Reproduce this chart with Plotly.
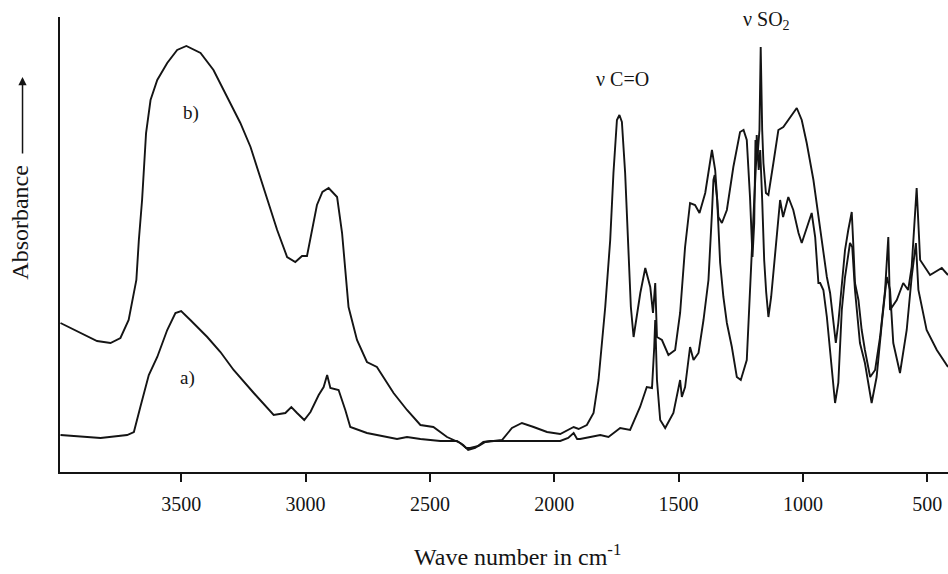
import plotly.graph_objects as go

# Curve a) : (wavenumber in cm-1, absorbance in a.u.)
curve_a = [(3985,0.37),(3824,0.34),(3717,0.37),(3690,0.40),(3664,0.65),(3630,0.97),(3596,1.15),
    (3556,1.42),(3523,1.59),(3500,1.61),(3463,1.52),(3395,1.35),(3342,1.20),(3289,1.02),
    (3208,0.79),(3128,0.57),(3081,0.59),(3057,0.65),(3034,0.59),(3005,0.52),(2980,0.60),
    (2947,0.77),(2927,0.85),(2913,0.97),(2900,0.84),(2867,0.82),(2840,0.62),(2820,0.45),
    (2753,0.39),(2686,0.36),(2632,0.33),(2592,0.35),(2538,0.33),(2458,0.31),(2391,0.31),
    (2366,0.27),(2346,0.22),(2318,0.24),(2285,0.30),(2257,0.31),(2097,0.31),(1976,0.31),
    (1944,0.34),(1922,0.39),(1908,0.33),(1896,0.33),(1855,0.35),(1815,0.37),(1782,0.35),
    (1735,0.44),(1695,0.42),(1661,0.62),(1655,0.65),(1628,0.85),(1607,0.84),(1598,1.25),
    (1594,1.52),(1587,0.92),(1574,0.52),(1554,0.44),(1521,0.59),(1494,0.92),(1487,0.75),
    (1474,0.85),(1454,1.25),(1440,1.12),(1420,1.19),(1400,1.52),(1380,1.92),(1366,2.59),
    (1360,2.92),(1355,2.97),(1345,2.72),(1333,2.09),(1320,1.75),(1306,1.49),(1286,1.25),
    (1266,0.95),(1250,0.92),(1226,1.12),(1206,2.09),(1196,2.72),(1188,3.12),(1186,3.37),
    (1178,3.02),(1172,3.22),(1164,2.72),(1156,2.12),(1148,1.80),(1139,1.55),(1128,1.75),
    (1105,2.42),(1092,2.72),(1080,2.55),(1059,2.75),(1039,2.62),(1018,2.39),(1005,2.29),
    (985,2.45),(965,2.59),(951,2.35),(938,1.89),(931,1.89),(918,1.82),(904,1.55),(884,1.05),
    (871,0.69),(858,0.89),(844,1.62),(831,1.95),(811,2.29),(802,2.25),(791,1.82),(771,1.29),
    (751,1.09),(724,0.69),(704,0.95),(683,1.49),(663,1.95),(650,1.82),(637,1.29),(610,0.99),
    (583,1.42),(563,1.95),(546,2.29),(536,1.82),(503,1.42),(462,1.22),(417,1.05)]

# Curve b)
curve_b = [(3985,1.49),(3905,1.39),(3838,1.31),(3784,1.29),(3744,1.34),(3711,1.52),(3690,1.79),
    (3680,1.92),(3670,2.32),(3657,2.72),(3641,3.39),(3623,3.72),(3596,3.92),(3556,4.09),
    (3516,4.22),(3479,4.26),(3422,4.19),(3370,4.02),(3315,3.75),(3262,3.49),(3221,3.25),
    (3169,2.85),(3114,2.42),(3074,2.15),(3041,2.10),(3014,2.16),(2994,2.16),(2954,2.67),
    (2932,2.80),(2907,2.84),(2873,2.75),(2853,2.39),(2833,1.79),(2827,1.65),(2793,1.32),
    (2753,1.10),(2713,1.05),(2646,0.79),(2592,0.62),(2538,0.47),(2486,0.45),(2431,0.35),
    (2378,0.29),(2354,0.24),(2338,0.24),(2305,0.26),(2277,0.30),(2230,0.31),(2210,0.32),
    (2170,0.44),(2130,0.49),(2083,0.45),(2029,0.40),(1976,0.38),(1922,0.45),(1902,0.43),
    (1869,0.47),(1842,0.59),(1822,0.92),(1795,1.65),(1775,2.32),(1762,2.99),(1748,3.52),
    (1738,3.57),(1728,3.50),(1715,2.99),(1702,2.15),(1692,1.65),(1681,1.35),(1668,1.55),
    (1654,1.79),(1634,2.04),(1614,1.85),(1603,1.59),(1594,1.89),(1587,1.35),(1567,1.32),
    (1541,1.17),(1514,1.22),(1494,1.59),(1474,2.25),(1454,2.69),(1434,2.67),(1416,2.59),
    (1393,2.79),(1366,3.22),(1353,3.02),(1340,2.55),(1326,2.49),(1306,2.62),(1280,3.05),
    (1253,3.40),(1239,3.42),(1226,3.32),(1213,2.75),(1203,2.15),(1196,2.49),(1191,3.32),
    (1183,3.15),(1175,3.42),(1170,4.25),(1164,3.42),(1159,3.09),(1149,2.79),(1139,2.77),
    (1119,3.09),(1099,3.42),(1079,3.45),(1059,3.52),(1025,3.64),(1005,3.52),(985,3.29),
    (958,2.92),(938,2.55),(918,2.22),(904,1.95),(891,1.79),(878,1.49),(868,1.29),(858,1.49),
    (844,1.89),(831,2.22),(818,2.42),(804,2.60),(798,2.29),(791,1.89),(777,1.72),(764,1.42),
    (751,1.22),(730,0.95),(710,1.02),(690,1.35),(670,1.82),(657,2.35),(650,1.62),(623,1.72),
    (597,1.89),(577,1.82),(563,2.05),(543,2.84),(529,2.12),(489,1.97),(442,2.04),(417,1.97)]

tick_vals = [3500, 3000, 2500, 2000, 1500, 1000, 500]
tick_text = ["3500", "3000", "2500", "2000", "1500", "1000", "500"]

SERIF = "Liberation Serif"
INK = "#141414"

fig = go.Figure()
for curve in (curve_a, curve_b):
    fig.add_trace(go.Scatter(x=[p[0] for p in curve], y=[p[1] for p in curve],
                             mode="lines", line=dict(color=INK, width=1.9),
                             showlegend=False, hoverinfo="skip"))

fig.update_layout(
    width=948, height=574,
    margin=dict(l=60, r=0, t=17, b=102),
    paper_bgcolor="white", plot_bgcolor="white",
    font=dict(family=SERIF, color=INK),
    xaxis=dict(range=[3987, 417], showgrid=False, zeroline=False,
               showline=True, linecolor=INK, linewidth=2,
               ticks="outside", ticklen=8, tickwidth=1.5, tickcolor=INK,
               tickvals=tick_vals, ticktext=tick_text,
               tickfont=dict(family=SERIF, size=20, color=INK),
               ticklabelstandoff=5),
    yaxis=dict(range=[0, 4.55], showgrid=False, zeroline=False,
               showline=True, linecolor=INK, linewidth=2,
               ticks="", showticklabels=False),
    annotations=[
        dict(x=3459, y=3.59, text="b)", showarrow=False,
             xanchor="center", yanchor="middle",
             font=dict(family=SERIF, size=19, color=INK)),
        dict(x=3473, y=0.94, text="a)", showarrow=False,
             xanchor="center", yanchor="middle",
             font=dict(family=SERIF, size=19, color=INK)),
        dict(x=1727, y=3.93, text="ν C=O", showarrow=False,
             xanchor="center", yanchor="middle",
             font=dict(family=SERIF, size=20, color=INK)),
        dict(x=1148, y=4.52, text="ν SO<sub>2</sub>", showarrow=False,
             xanchor="center", yanchor="middle",
             font=dict(family=SERIF, size=20, color=INK)),
        dict(xref="paper", yref="paper", x=-0.045, y=0.548, text="Absorbance",
             textangle=-90, showarrow=False, xanchor="center", yanchor="middle",
             font=dict(family=SERIF, size=24, color=INK)),
        dict(xref="paper", yref="paper", x=-0.0422, y=0.868, text="",
             showarrow=True, axref="pixel", ayref="pixel", ax=0, ay=78,
             arrowhead=2, arrowsize=1.1, arrowwidth=1.5, arrowcolor=INK),
        dict(xref="paper", yref="paper", x=0.5152, y=-0.183,
             text="Wave number in cm<sup>-1</sup>", showarrow=False,
             xanchor="center", yanchor="middle",
             font=dict(family=SERIF, size=24, color=INK)),
    ],
)

fig.write_html("out.html", config={"displayModeBar": False},
               post_script="document.body.style.margin='0';"
                           "document.body.style.overflow='hidden';")
